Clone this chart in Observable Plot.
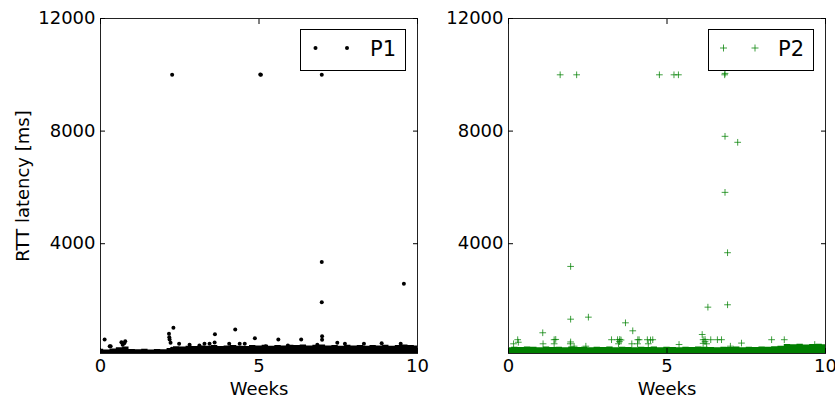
<!DOCTYPE html>
<html><head><meta charset="utf-8">
<script src="https://cdn.jsdelivr.net/npm/d3@7"></script>
<script src="https://cdn.jsdelivr.net/npm/@observablehq/plot@0.6"></script>
<style>
body{margin:0;background:#fff;font-family:"DejaVu Sans",sans-serif;}
#wrap{position:relative;width:835px;height:403px;overflow:hidden;background:#fff}
.panel{position:absolute;top:0}
.legend{position:absolute;top:29px;width:106px;height:42px;}
</style>
</head><body>
<div id="wrap"></div>
<script>
// ---- data ----
const xTicks = [0, 5, 10];
const yTicks = [4000, 8000, 12000];
const yDomain = [100, 12000];

const p1Weeks = [2.26,5.06,5.04,6.98,6.98,6.98,9.57,0.13,0.29,0.66,0.78,0.70,0.75,2.16,2.17,2.18,2.21,2.30,2.25,2.48,3.61,4.25,4.87,5.61,6.33,6.99,6.99,2.81,3.12,3.28,3.44,3.60,4.06,4.39,4.55,5.21,5.91,6.84,7.47,7.71,8.31,8.87,9.47,0.32];
const p1Rtt   = [10000,10000,10010,10000,3346,1924,2578,597,359,501,537,410,460,800,678,597,480,1013,267,445,786,953,644,597,597,714,587,410,380,445,445,490,445,445,445,359,380,410,480,445,445,460,445,360];

const p2Weeks = [1.63,2.15,4.76,5.22,5.36,6.82,6.83,6.83,7.23,6.83,1.96,6.91,6.29,6.91,1.96,2.52,3.69,3.92,1.08,6.11,0.29,1.44,1.49,3.25,3.44,3.51,3.55,4.08,4.12,4.38,4.48,4.55,6.14,6.20,6.38,6.59,6.72,7.35,8.30,8.70,0.16,1.09,1.44,1.95,3.47,3.89,4.07,4.41,5.38,6.14,6.25,9.66,1.96,2.07,2.44,7.00,0.31,3.50,6.20];
const p2Rtt   = [10000,10000,10000,10000,10000,10000,10050,7815,7602,5824,3193,3680,1746,1831,1319,1391,1190,906,836,775,590,590,600,590,590,600,580,590,590,590,580,590,590,600,590,590,590,470,590,590,445,445,445,445,445,445,445,445,420,460,445,420,510,359,359,359,500,520,520];

// upper edge of the dense band of samples near the bottom (every 0.2 weeks)
const bandWeeks = [0,0.2,0.4,0.6,0.8,1,1.2,1.4,1.6,1.8,2,2.2,2.4,2.6,2.8,3,3.2,3.4,3.6,3.8,4,4.2,4.4,4.6,4.8,5,5.2,5.4,5.6,5.8,6,6.2,6.4,6.6,6.8,7,7.2,7.4,7.6,7.8,8,8.2,8.4,8.6,8.8,9,9.2,9.4,9.6,9.8,10];
const p1BandTop = [250,220,260,300,330,240,230,250,220,240,230,280,340,330,360,350,370,360,380,350,370,380,360,350,380,370,390,360,380,370,390,380,400,370,390,400,370,380,360,390,370,380,360,380,370,390,360,380,400,380,370];
const p2BandTop = [300,320,310,330,320,300,330,310,320,300,330,310,320,300,320,310,330,300,320,310,300,320,310,330,300,320,310,300,320,310,330,320,310,300,320,310,330,300,320,310,330,320,340,360,420,410,430,400,420,430,410];

const wrap = document.getElementById("wrap");

function panel({weeks, rtt, bandTop, color, dotOpts, left, width, marginLeft, marginRight, ylabel}) {
  const pts = weeks.map((w, i) => ({w, r: rtt[i]}));
  const band = bandWeeks.map((w, i) => ({w, t: bandTop[i]}));
  const marks = [
    Plot.areaY(band, {x: "w", y: "t", fill: color, curve: "step", clip: true}),
    Plot.dot(pts, {x: "w", y: "r", ...dotOpts}),
    Plot.frame({stroke: "#222"}),
    Plot.axisY(yTicks, {anchor: "left", tickSize: 0, tickPadding: 5, tickFormat: d => String(d), label: null, fontSize: 18}),
    Plot.axisY(yTicks, {anchor: "left", tickSize: -5, fill: "none", label: null}),
    Plot.axisY(yTicks, {anchor: "right", tickSize: -5, fill: "none", label: null}),
    Plot.axisX(xTicks, {anchor: "bottom", tickSize: 0, tickPadding: 6, tickFormat: d => String(d), label: null, fontSize: 18}),
    Plot.axisX(xTicks, {anchor: "bottom", tickSize: -5, fill: "none", label: null}),
    Plot.axisX(xTicks, {anchor: "top", tickSize: -5, fill: "none", label: null}),
    Plot.text(["Weeks"], {frameAnchor: "bottom", lineAnchor: "middle", textAnchor: "middle", dy: 36, text: d => d, fontSize: 18, fill: "#000"})
  ];
  if (ylabel) marks.push(Plot.text([ylabel], {frameAnchor: "left", textAnchor: "middle", lineAnchor: "middle", dx: -77, rotate: -90, text: d => d, fontSize: 18, fill: "#000"}));
  const svg = Plot.plot({
    width, height: 403,
    marginLeft, marginRight, marginTop: 18, marginBottom: 50,
    x: {domain: [0, 10]},
    y: {domain: yDomain},
    style: {fontFamily: "DejaVu Sans", fontSize: "18px", color: "#000", background: "transparent", overflow: "visible"},
    marks
  });
  svg.classList.add("panel");
  svg.style.left = left + "px";
  svg.style.position = "absolute";
  wrap.appendChild(svg);
}

panel({weeks: p1Weeks, rtt: p1Rtt, bandTop: p1BandTop, color: "#000",
  dotOpts: {r: 2, fill: "#000", stroke: "none"},
  left: 0, width: 420, marginLeft: 100, marginRight: 3, ylabel: "RTT latency [ms]"});

panel({weeks: p2Weeks, rtt: p2Rtt, bandTop: p2BandTop, color: "#007f00",
  dotOpts: {symbol: "plus", r: 2.3, stroke: "#008000", strokeWidth: 1, strokeOpacity: 0.75},
  left: 420, width: 415, marginLeft: 88, marginRight: 10});

// legends
function legend(left, label, kind) {
  const ns = "http://www.w3.org/2000/svg";
  const s = document.createElementNS(ns, "svg");
  s.setAttribute("class", "legend");
  s.setAttribute("width", 106); s.setAttribute("height", 42);
  s.style.left = left + "px";
  const r = document.createElementNS(ns, "rect");
  r.setAttribute("x", 0.5); r.setAttribute("y", 0.5); r.setAttribute("width", 105); r.setAttribute("height", 41);
  r.setAttribute("fill", "#fff"); r.setAttribute("stroke", "#000");
  s.appendChild(r);
  for (const cx of [15.5, 47]) {
    if (kind === "dot") {
      const c = document.createElementNS(ns, "circle");
      c.setAttribute("cx", cx); c.setAttribute("cy", 19); c.setAttribute("r", 2); c.setAttribute("fill", "#000");
      s.appendChild(c);
    } else {
      const p = document.createElementNS(ns, "path");
      p.setAttribute("d", `M${cx-3.5},19H${cx+3.5}M${cx},15.5V22.5`);
      p.setAttribute("stroke", "#008000"); p.setAttribute("stroke-opacity", 0.75); p.setAttribute("fill", "none");
      s.appendChild(p);
    }
  }
  const t = document.createElementNS(ns, "text");
  t.setAttribute("x", 70); t.setAttribute("y", 27);
  t.setAttribute("font-family", "DejaVu Sans"); t.setAttribute("font-size", 21); t.setAttribute("fill", "#000");
  t.textContent = label;
  s.appendChild(t);
  wrap.appendChild(s);
}
legend(300, "P1", "dot");
legend(708, "P2", "plus");
</script>
</body></html>
